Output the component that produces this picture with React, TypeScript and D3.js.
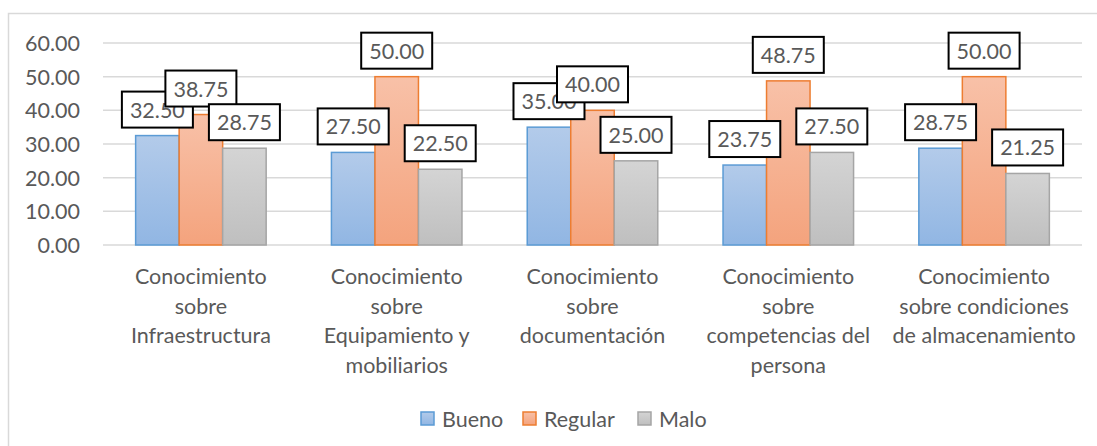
import React from "react";
import * as d3 from "d3";

const categories: string[][] = [
  ["Conocimiento", "sobre", "Infraestructura"],
  ["Conocimiento", "sobre", "Equipamiento y", "mobiliarios"],
  ["Conocimiento", "sobre", "documentación"],
  ["Conocimiento", "sobre", "competencias del", "persona"],
  ["Conocimiento", "sobre condiciones", "de almacenamiento"],
];
const seriesNames = ["Bueno", "Regular", "Malo"];
const bueno = [32.5, 27.5, 35.0, 23.75, 28.75];
const regular = [38.75, 50.0, 40.0, 48.75, 50.0];
const malo = [28.75, 22.5, 25.0, 27.5, 21.25];
const yTicks = [0, 10, 20, 30, 40, 50, 60];

const W = 1097;
const H = 446;
const FONT = "Lato, 'Noto Sans', sans-serif";
const TXT = "#595959";

const seriesStyle = [
  { stroke: "#5b9bd5", top: "#b3cbea", bottom: "#91b6e3" },
  { stroke: "#ed7d31", top: "#f8c1a8", bottom: "#f4a37d" },
  { stroke: "#a5a5a5", top: "#d4d4d4", bottom: "#bfbfbf" },
];

export default function App() {
  const seriesValues = [bueno, regular, malo];
  const idx = categories.map((_, i) => String(i));
  const x = d3.scaleBand<string>().domain(idx).range([103, 1082]).paddingInner(0).paddingOuter(0);
  const xi = d3
    .scaleBand<string>()
    .domain(seriesNames)
    .range([0, x.bandwidth()])
    .paddingInner(0)
    .paddingOuter(0.75);
  const y = d3.scaleLinear().domain([0, 60]).range([245, 43]);

  const boxW = 71;
  const boxH = 36;
  const gap = 8;

  return (
    <svg width={W} height={H} style={{ display: "block", position: "absolute", left: 0, top: 0 }}>
      <defs>
        {seriesStyle.map((s, i) => (
          <linearGradient key={i} id={`g${i}`} x1="0" y1="0" x2="0" y2="1">
            <stop offset="0%" stopColor={s.top} />
            <stop offset="100%" stopColor={s.bottom} />
          </linearGradient>
        ))}
      </defs>
      <rect x={0} y={0} width={W} height={H} fill="#ffffff" />
      <rect x={8.5} y={13.5} width={1200} height={500} fill="none" stroke="#d9d9d9" strokeWidth={1.5} />

      {yTicks.map((t) => (
        <g key={t}>
          <line x1={103} x2={1082} y1={y(t)} y2={y(t)} stroke="#d9d9d9" strokeWidth={1.5} />
          <text
            x={80}
            y={y(t)}
            textAnchor="end"
            dominantBaseline="central"
            fontFamily={FONT}
            fontSize={21.5}
            fill={TXT}
          >
            {d3.format(".2f")(t)}
          </text>
        </g>
      ))}

      {seriesValues.map((vals, si) =>
        vals.map((v, ci) => {
          const bx = (x(String(ci)) ?? 0) + (xi(seriesNames[si]) ?? 0);
          return (
            <rect
              key={`b${si}-${ci}`}
              x={bx}
              y={y(v)}
              width={xi.bandwidth()}
              height={y(0) - y(v)}
              fill={`url(#g${si})`}
              stroke={seriesStyle[si].stroke}
              strokeWidth={1.5}
            />
          );
        })
      )}

      {seriesValues.map((vals, si) =>
        vals.map((v, ci) => {
          const cx = (x(String(ci)) ?? 0) + (xi(seriesNames[si]) ?? 0) + xi.bandwidth() / 2;
          const by = y(v) - gap - boxH;
          return (
            <g key={`l${si}-${ci}`}>
              <rect
                x={cx - boxW / 2}
                y={by}
                width={boxW}
                height={boxH}
                fill="#ffffff"
                stroke="#000000"
                strokeWidth={2}
              />
              <text
                x={cx}
                y={by + boxH / 2}
                textAnchor="middle"
                dominantBaseline="central"
                fontFamily={FONT}
                fontSize={21.5}
                fill={TXT}
              >
                {d3.format(".2f")(v)}
              </text>
            </g>
          );
        })
      )}

      {categories.map((lines, ci) => {
        const cx = (x(String(ci)) ?? 0) + x.bandwidth() / 2;
        return (
          <text key={`c${ci}`} textAnchor="middle" fontFamily={FONT} fontSize={21.5} fill={TXT}>
            {lines.map((ln, li) => (
              <tspan key={li} x={cx} y={284 + li * 29.5}>
                {ln}
              </tspan>
            ))}
          </text>
        );
      })}

      {seriesNames.map((name, si) => {
        const lx = [421, 523, 638][si];
        return (
          <g key={`lg${si}`}>
            <rect
              x={lx}
              y={412}
              width={13}
              height={13}
              fill={`url(#g${si})`}
              stroke={seriesStyle[si].stroke}
              strokeWidth={1.5}
            />
            <text
              x={lx + 21}
              y={419}
              dominantBaseline="central"
              fontFamily={FONT}
              fontSize={21.5}
              fill={TXT}
            >
              {name}
            </text>
          </g>
        );
      })}
    </svg>
  );
}
